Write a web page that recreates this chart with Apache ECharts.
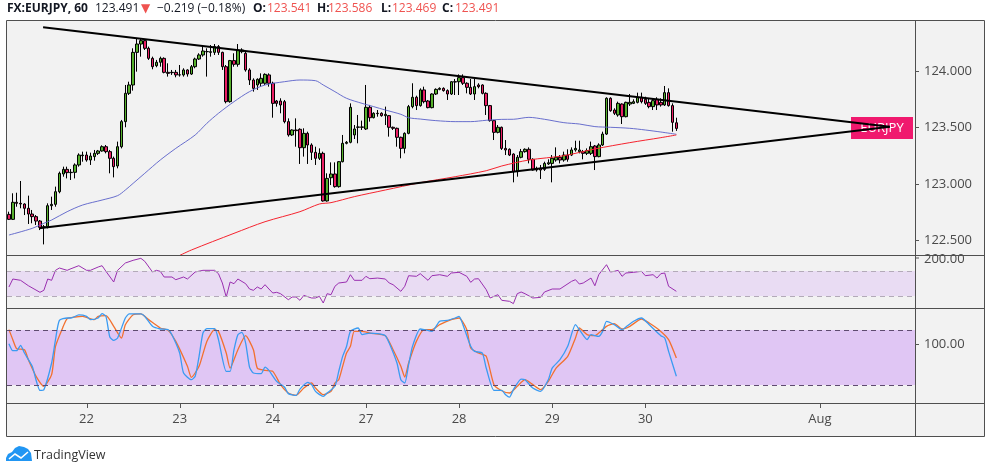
<!DOCTYPE html>
<html><head><meta charset="utf-8">
<script src="https://cdn.jsdelivr.net/npm/echarts@6/dist/echarts.min.js"></script>
<style>html,body{margin:0;padding:0;background:#fff}#c{width:991px;height:473px}</style>
</head><body><div id="c"></div>
<script>
// hourly candles: [open, high, low, close]
const candles = [
[122.729,122.753,122.679,122.685],[122.685,122.916,122.679,122.836],[122.836,122.921,122.797,122.827],[122.827,123.025,122.783,122.821],
[122.821,122.827,122.723,122.783],[122.783,122.895,122.644,122.732],[122.732,122.768,122.650,122.709],[122.709,122.723,122.635,122.670],
[122.670,122.679,122.590,122.614],[122.614,122.635,122.463,122.620],[122.620,122.827,122.605,122.806],[122.806,122.886,122.768,122.818],
[122.818,122.975,122.797,122.930],[122.930,123.108,122.916,123.093],[123.087,123.152,123.063,123.128],[123.128,123.152,123.048,123.099],
[123.099,123.131,123.034,123.102],[123.102,123.181,123.048,123.167],[123.167,123.270,123.152,123.255],[123.249,123.285,123.196,123.255],
[123.255,123.285,123.196,123.211],[123.211,123.276,123.167,123.246],[123.241,123.300,123.205,123.270],[123.270,123.300,123.255,123.291],
[123.291,123.341,123.285,123.329],[123.329,123.344,123.270,123.285],[123.285,123.300,123.093,123.226],[123.226,123.241,123.057,123.152],
[123.158,123.374,123.137,123.329],[123.329,123.566,123.314,123.551],[123.551,123.876,123.501,123.802],[123.802,123.905,123.787,123.876],
[123.876,124.201,123.826,124.165],[124.165,124.290,123.994,124.239],[124.239,124.290,124.127,124.269],[124.269,124.275,124.186,124.201],
[124.201,124.216,124.098,124.112],[124.112,124.127,124.015,124.038],[124.047,124.098,124.033,124.077],[124.077,124.127,124.038,124.112],
[124.112,124.121,123.979,123.988],[123.988,124.068,123.950,123.979],[123.985,124.009,123.965,123.988],[123.988,124.009,123.944,123.965],
[123.965,124.053,123.950,123.966],[123.965,124.024,123.950,124.009],[124.009,124.015,123.950,123.973],[123.973,124.053,123.965,124.038],
[124.038,124.118,124.024,124.106],[124.106,124.157,124.098,124.142],[124.142,124.230,124.127,124.177],[124.171,124.201,123.950,124.172],
[124.165,124.230,124.127,124.171],[124.165,124.239,124.142,124.216],[124.216,124.230,124.142,124.165],[124.165,124.171,124.009,124.038],
[124.038,124.053,123.713,123.728],[123.728,124.098,123.719,124.092],[124.092,124.157,124.038,124.059],[124.059,124.239,124.038,124.186],
[124.171,124.201,124.157,124.186],[124.157,124.171,123.994,124.009],[124.009,124.024,123.876,123.920],[123.920,123.935,123.817,123.846],
[123.876,123.935,123.832,123.926],[123.891,123.979,123.861,123.935],[123.891,123.979,123.876,123.970],[123.965,123.979,123.861,123.891],
[123.891,123.905,123.586,123.713],[123.734,123.743,123.684,123.713],[123.734,123.758,123.625,123.699],[123.728,123.743,123.536,123.551],
[123.551,123.580,123.418,123.433],[123.433,123.483,123.424,123.477],[123.477,123.580,123.329,123.471],[123.483,123.492,123.176,123.320],
[123.320,123.492,123.241,123.447],[123.447,123.462,123.176,123.344],[123.344,123.359,123.211,123.279],[123.279,123.329,123.167,123.226],
[123.226,123.314,123.211,123.270],[123.270,123.285,122.842,122.848],[122.848,123.093,122.842,123.048],[123.054,123.190,122.989,123.087],
[123.087,123.190,122.966,122.975],[122.975,123.202,122.966,123.196],[123.196,123.433,123.190,123.359],[123.359,123.379,123.350,123.368],
[123.368,123.713,123.359,123.678],[123.433,123.521,123.397,123.486],[123.501,123.610,123.359,123.504],[123.501,123.560,123.477,123.504],
[123.486,123.876,123.477,123.678],[123.678,123.699,123.551,123.586],[123.586,123.634,123.580,123.625],[123.625,123.654,123.595,123.622],
[123.625,123.634,123.595,123.604],[123.604,123.684,123.521,123.616],[123.604,123.610,123.418,123.501],[123.501,123.507,123.477,123.492],
[123.492,123.498,123.329,123.412],[123.412,123.418,123.226,123.314],[123.314,123.456,123.270,123.447],[123.447,123.699,123.439,123.684],
[123.684,123.891,123.669,123.767],[123.767,123.781,123.654,123.693],[123.693,123.846,123.684,123.832],[123.832,123.861,123.713,123.728],
[123.734,123.743,123.669,123.675],[123.675,123.802,123.669,123.796],[123.796,123.846,123.787,123.837],[123.837,123.855,123.829,123.846],
[123.846,123.855,123.817,123.826],[123.826,123.837,123.743,123.796],[123.796,123.911,123.787,123.905],[123.905,123.929,123.787,123.902],
[123.905,123.970,123.787,123.941],[123.941,123.970,123.876,123.891],[123.891,123.900,123.802,123.855],[123.855,123.929,123.787,123.796],
[123.796,123.929,123.743,123.861],[123.876,123.891,123.846,123.861],[123.876,123.882,123.793,123.802],[123.802,123.811,123.610,123.693],
[123.693,123.699,123.551,123.560],[123.560,123.566,123.388,123.456],[123.456,123.521,123.447,123.501],[123.501,123.507,123.300,123.314],
[123.314,123.388,123.255,123.300],[123.306,123.314,123.246,123.255],[123.264,123.270,123.013,123.108],[123.108,123.255,123.063,123.235],
[123.235,123.309,123.226,123.285],[123.285,123.314,123.276,123.306],[123.306,123.323,123.181,123.217],[123.217,123.226,123.116,123.122],
[123.122,123.152,123.108,123.137],[123.137,123.167,123.043,123.122],[123.128,123.196,123.114,123.181],[123.176,123.217,123.167,123.187],
[123.181,123.255,123.013,123.226],[123.211,123.323,123.196,123.235],[123.235,123.255,123.181,123.211],[123.211,123.285,123.196,123.255],
[123.255,123.306,123.196,123.217],[123.255,123.323,123.246,123.300],[123.300,123.382,123.285,123.314],[123.285,123.382,123.270,123.300],
[123.285,123.300,123.217,123.270],[123.270,123.314,123.255,123.294],[123.270,123.374,123.255,123.329],[123.335,123.344,123.122,123.241],
[123.241,123.359,123.235,123.344],[123.344,123.462,123.335,123.441],[123.441,123.767,123.433,123.758],[123.758,123.767,123.639,123.648],
[123.654,123.669,123.610,123.625],[123.610,123.728,123.595,123.713],[123.707,123.713,123.530,123.595],[123.595,123.728,123.589,123.722],
[123.707,123.796,123.690,123.722],[123.713,123.749,123.707,123.728],[123.722,123.808,123.713,123.767],[123.767,123.808,123.713,123.728],
[123.749,123.772,123.699,123.713],[123.722,123.758,123.669,123.684],[123.684,123.758,123.654,123.737],[123.749,123.767,123.654,123.699],
[123.722,123.758,123.684,123.699],[123.699,123.867,123.690,123.808],[123.808,123.846,123.684,123.693],[123.693,123.713,123.462,123.545],
[123.541,123.586,123.469,123.491]
];
// moving averages read at sample bars: [bar index, value]
const maBlue = [[0,122.546],[6,122.605],[9,122.650],[11,122.679],[15,122.753],[19,122.812],[24,122.856],[28,122.895],[30,122.945],[32,123.004],[35,123.093],[39,123.211],[43,123.314],[48,123.433],[51,123.536],[54,123.625],[58,123.728],[62,123.817],[66,123.876],[71,123.905],[75,123.920],[79,123.914],[81,123.876],[84,123.817],[87,123.758],[91,123.713],[94,123.684],[97,123.654],[101,123.616],[103,123.586],[106,123.574],[110,123.560],[115,123.551],[119,123.551],[123,123.563],[127,123.571],[130,123.572],[134,123.589],[138,123.572],[143,123.542],[147,123.530],[151,123.507],[155,123.501],[160,123.492],[164,123.477],[168,123.459],[172,123.439]];
const maRed = [[44,122.365],[47,122.413],[58,122.561],[66,122.664],[75,122.753],[80,122.821],[83,122.833],[89,122.886],[97,122.945],[106,123.010],[115,123.063],[123,123.116],[127,123.158],[134,123.211],[143,123.249],[151,123.309],[160,123.365],[168,123.409],[172,123.433]];
const trendUpper = [[8.8,124.387],[227,123.505]];
const trendLower = [[7.8,122.606],[227,123.505]];
const rsi = [[0,44.4],[1,57.2],[3,55.1],[5,46.5],[8,35.9],[9,39.1],[10,57.2],[11,55.1],[12,71.1],[13,74.8],[15,71.1],[16,73.7],[18,78.5],[20,71.1],[21,71.1],[23,76.4],[24,78.5],[25,69.5],[27,52.4],[28,71.1],[30,82.8],[32,87.1],[34,90.3],[35,85.5],[37,68.4],[38,71.1],[39,69.5],[40,60.4],[42,60.4],[43,56.1],[45,60.4],[46,57.2],[48,68.4],[50,71.1],[53,71.1],[54,65.7],[55,50.8],[56,28.4],[57,52.4],[58,49.7],[59,57.2],[61,49.7],[62,41.2],[63,39.1],[64,44.4],[65,41.2],[66,48.1],[67,41.2],[68,34.8],[69,35.9],[70,33.7],[72,24.1],[73,28.4],[74,28.4],[75,23.1],[76,31.0],[78,26.8],[79,26.8],[80,29.5],[81,18.8],[82,33.7],[83,32.1],[84,45.5],[85,50.8],[87,52.4],[88,64.1],[89,55.1],[91,55.1],[92,61.5],[93,57.7],[95,58.7],[97,57.2],[98,50.8],[99,48.1],[101,37.5],[102,45.5],[103,62.5],[105,61.5],[106,65.7],[108,55.1],[109,62.5],[111,64.1],[113,61.5],[114,66.8],[116,67.9],[118,61.5],[119,51.9],[120,57.2],[121,57.7],[123,40.1],[124,26.8],[126,32.1],[127,23.1],[129,21.5],[130,17.8],[131,33.7],[132,36.4],[133,33.7],[135,26.8],[137,27.8],[138,36.4],[140,41.2],[142,41.2],[145,53.5],[146,56.1],[147,49.2],[148,50.8],[150,58.7],[151,46.4],[152,64.1],[154,80.1],[155,68.4],[156,69.5],[157,71.1],[158,61.5],[159,66.8],[161,67.9],[163,69.5],[164,62.5],[166,64.1],[167,58.7],[168,65.7],[169,66.8],[170,45.5],[172,37.5]];
const stochK = [[0,65.1],[1,57.5],[2,57.5],[3,63.3],[4,54.9],[6,40.4],[8,14.2],[9,14.9],[11,44.0],[12,69.5],[13,90.5],[15,93.1],[16,93.1],[18,96.4],[20,94.9],[21,91.3],[23,93.1],[24,97.8],[25,94.9],[26,72.4],[27,68.7],[28,71.3],[30,93.1],[31,97.5],[34,97.5],[35,94.9],[37,84.0],[39,81.1],[41,80.4],[42,74.9],[44,54.9],[45,33.1],[47,25.8],[48,29.5],[49,51.3],[50,76.7],[51,81.5],[53,81.5],[54,69.5],[56,34.9],[57,34.9],[58,58.5],[59,74.9],[60,77.5],[61,65.8],[62,39.6],[63,33.1],[65,32.4],[66,39.6],[67,36.0],[69,24.0],[71,17.8],[72,10.6],[74,8.7],[75,15.6],[77,22.9],[78,20.4],[79,13.1],[81,7.6],[82,11.3],[84,18.6],[85,35.0],[86,51.3],[87,62.0],[88,78.5],[90,82.2],[91,74.9],[93,76.7],[95,76.0],[97,73.8],[98,65.8],[100,44.0],[101,25.8],[102,22.2],[103,42.2],[104,62.2],[106,81.1],[107,80.4],[109,78.5],[111,89.5],[113,90.5],[115,93.1],[116,94.9],[117,85.8],[119,62.2],[120,56.7],[122,54.9],[123,38.5],[125,14.2],[127,14.2],[128,9.5],[129,6.9],[130,14.9],[132,26.5],[133,25.8],[135,16.7],[137,13.1],[139,25.8],[140,38.5],[142,47.6],[144,62.2],[146,85.8],[147,80.4],[149,69.5],[150,74.9],[152,73.1],[153,78.5],[154,89.5],[156,85.8],[158,80.4],[159,83.3],[161,89.5],[163,93.1],[165,85.8],[168,73.8],[169,71.3],[170,56.7],[172,29.5]];
const stochD = [[0,80.4],[1,69.5],[2,59.6],[4,58.5],[5,47.6],[7,29.5],[9,18.6],[11,31.3],[12,62.2],[14,84.0],[15,92.4],[17,94.2],[19,94.9],[22,91.3],[23,94.9],[25,95.6],[27,84.0],[29,71.3],[30,85.8],[32,96.7],[34,97.5],[36,91.3],[39,82.2],[41,79.6],[43,67.6],[46,40.4],[47,28.4],[49,40.4],[51,67.6],[53,80.4],[54,78.5],[56,54.9],[57,38.5],[59,58.5],[61,73.8],[63,58.5],[64,38.5],[66,36.0],[68,34.9],[70,20.4],[72,11.3],[74,8.7],[76,16.7],[78,22.2],[79,16.7],[81,9.5],[83,13.1],[84,22.2],[85,25.8],[86,40.4],[87,54.9],[88,62.2],[89,78.5],[91,78.5],[93,76.7],[97,73.8],[99,58.5],[101,40.4],[102,28.7],[103,44.0],[105,67.6],[107,80.4],[109,80.4],[111,85.8],[114,91.3],[116,93.1],[118,80.4],[119,60.4],[121,54.9],[123,51.3],[125,20.4],[127,13.8],[129,11.3],[131,18.6],[133,25.8],[135,20.4],[137,14.9],[139,24.0],[141,38.5],[144,51.3],[146,71.3],[147,82.2],[149,74.9],[151,73.8],[152,76.7],[154,84.0],[156,86.9],[158,81.1],[160,84.0],[163,92.0],[165,87.6],[168,78.5],[170,69.5],[172,49.5]];
const dayLabels = ['22','23','24','27','28','29','30','Aug'];
const dayIndex = [20,44,68,92,116,140,164,209];
const priceTicks = [122.5,123,123.5,124];
const rsiBands = [30,70];
const stochBands = [20,80];
const slotCount = 234;

const slots = Array.from({length: slotCount}, (_, i) => String(i));
const labelMap = {};
dayIndex.forEach((ix, k) => { labelMap[ix] = dayLabels[k]; });
const isLabel = (idx) => labelMap[idx] !== undefined;

const FONT = 'Open Sans';
const RED = '#ef5350';
const chart = echarts.init(document.getElementById('c'), null, {renderer: 'canvas'});

const G = [
  {left: 7, top: 21, width: 908, height: 234},
  {left: 7, top: 255, width: 908, height: 53},
  {left: 7, top: 308, width: 908, height: 95}
];
const hiddenVal = (g) => ({type: 'value', gridIndex: g, min: -0.5, max: slotCount - 0.5, show: false});

const hdr = [];
const addT = (x, text, opt) => hdr.push({type: 'text', x: x, y: 9, z: 50,
  style: Object.assign({text: text, fill: '#131722', font: '12px "' + FONT + '"', textVerticalAlign: 'middle'}, opt || {})});
addT(7, 'FX:EURJPY, 60', {font: 'bold 12px "' + FONT + '"'});
addT(95, '123.491');
addT(141, '▼', {fill: RED, font: '12px "DejaVu Sans"'});
addT(157, '−0.219 (−0.18%)');
addT(253, 'O:', {font: 'bold 12px "' + FONT + '"'});
addT(267, '123.541', {fill: RED});
addT(317, 'H:', {font: 'bold 12px "' + FONT + '"'});
addT(328, '123.586', {fill: RED});
addT(381, 'L:', {font: 'bold 12px "' + FONT + '"'});
addT(392, '123.469', {fill: RED});
addT(442, 'C:', {font: 'bold 12px "' + FONT + '"'});
addT(455, '123.491', {fill: RED});

const frameColor = '#4f4f4f';
const graphics = [
  {type: 'rect', z: 0, shape: {x: 7, y: 21, width: 978, height: 416}, style: {fill: '#f2f2f2'}},
  {type: 'rect', z: 1, shape: {x: 851, y: 117, width: 62, height: 22}, style: {fill: '#f0196e'}},
  {type: 'text', z: 1, x: 882, y: 128.5, style: {text: 'EURJPY', fill: '#fff', font: '13px "' + FONT + '"', textAlign: 'center', textVerticalAlign: 'middle'}},
  {type: 'rect', z: 60, shape: {x: 6.5, y: 20.5, width: 978, height: 416}, style: {fill: 'none', stroke: frameColor, lineWidth: 1}},
  {type: 'line', z: 60, shape: {x1: 915.5, y1: 21, x2: 915.5, y2: 437}, style: {stroke: frameColor, lineWidth: 1}},
  {type: 'line', z: 60, shape: {x1: 7, y1: 255.5, x2: 985, y2: 255.5}, style: {stroke: frameColor, lineWidth: 1}},
  {type: 'line', z: 60, shape: {x1: 7, y1: 308.5, x2: 985, y2: 308.5}, style: {stroke: frameColor, lineWidth: 1}},
  {type: 'line', z: 60, shape: {x1: 7, y1: 403.5, x2: 985, y2: 403.5}, style: {stroke: frameColor, lineWidth: 1}},
  {type: 'line', z: 60, shape: {x1: 915, y1: 258, x2: 919, y2: 258}, style: {stroke: '#555', lineWidth: 1}},
  {type: 'text', z: 55, x: 924, y: 259, style: {text: '200.00', fill: '#4a4a4a', font: '13px "' + FONT + '"', textVerticalAlign: 'middle'}},
  {type: 'line', z: 60, shape: {x1: 915, y1: 344.5, x2: 919, y2: 344.5}, style: {stroke: '#555', lineWidth: 1}},
  {type: 'text', z: 55, x: 924, y: 344.5, style: {text: '100.00', fill: '#4a4a4a', font: '13px "' + FONT + '"', textVerticalAlign: 'middle'}},
  {type: 'polygon', z: 50, shape: {points: [[6,461],[6,458],[8,454],[12,452],[15,448],[19,446],[24,447],[28,449],[31,453],[32,461]]}, style: {fill: '#2196f3'}},
  {type: 'polyline', z: 51, shape: {points: [[9, 459], [15, 454], [21, 458], [28, 452]]}, style: {stroke: '#fff', lineWidth: 1.6, fill: 'none'}},
  {type: 'text', z: 50, x: 34, y: 455, style: {text: 'TradingView', fill: '#333', font: '12.5px "' + FONT + '"', textVerticalAlign: 'middle'}}
].concat(hdr);

const option = {
  animation: false,
  backgroundColor: '#ffffff',
  textStyle: {fontFamily: FONT},
  grid: G,
  xAxis: [
    {type: 'category', gridIndex: 0, data: slots, boundaryGap: true, axisLine: {show: false}, axisTick: {show: false}, axisLabel: {show: false}, splitLine: {show: false}},
    hiddenVal(0), hiddenVal(1), hiddenVal(2),
    {type: 'category', gridIndex: 2, data: slots, boundaryGap: true, position: 'bottom',
     axisLine: {show: false}, axisTick: {show: false},
     axisLabel: {interval: (i) => isLabel(i), formatter: (v) => labelMap[Number(v)] || '', color: '#4a4a4a', fontSize: 13, margin: 10},
     splitLine: {show: false}}
  ],
  yAxis: [
    {type: 'value', gridIndex: 0, position: 'right', min: 122.369, max: 124.443, splitLine: {show: false}, axisLine: {show: false},
     axisTick: {show: false},
     axisLabel: {customValues: priceTicks, formatter: (v) => Number(v).toFixed(3), color: '#4a4a4a', fontSize: 13, margin: 9}},
    {type: 'value', gridIndex: 1, min: 10.8, max: 95.6, show: false},
    {type: 'value', gridIndex: 2, min: 0.4, max: 104, show: false}
  ],
  graphic: graphics,
  series: [
    {type: 'candlestick', xAxisIndex: 0, yAxisIndex: 0, barWidth: 3,
     data: candles.map(c => [c[0], c[3], c[2], c[1]]),
     itemStyle: {color: '#55b02c', color0: '#ea1e63', borderColor: '#000', borderColor0: '#000', borderWidth: 1}},
    {type: 'line', xAxisIndex: 1, yAxisIndex: 0, data: maBlue, showSymbol: false, smooth: 0.3, clip: true,
     lineStyle: {color: '#5a61c9', width: 1, opacity: 0.9}},
    {type: 'line', xAxisIndex: 1, yAxisIndex: 0, data: maRed, showSymbol: false, smooth: 0.3, clip: true,
     lineStyle: {color: '#f5232e', width: 1}},
    {type: 'line', xAxisIndex: 1, yAxisIndex: 0, data: trendUpper, showSymbol: false, z: 5, lineStyle: {color: '#000', width: 2}},
    {type: 'line', xAxisIndex: 1, yAxisIndex: 0, data: trendLower, showSymbol: false, z: 5, lineStyle: {color: '#000', width: 2}},
    {type: 'line', xAxisIndex: 2, yAxisIndex: 1, data: rsi, showSymbol: false, lineStyle: {color: '#9a2fb0', width: 1},
     markArea: {silent: true, itemStyle: {color: '#e9dcf3'}, data: [[{yAxis: rsiBands[0]}, {yAxis: rsiBands[1]}]]},
     markLine: {silent: true, symbol: 'none', label: {show: false}, lineStyle: {color: '#b3aab8', type: [5, 4], width: 1},
       data: rsiBands.map(v => ({yAxis: v}))}},
    {type: 'line', xAxisIndex: 3, yAxisIndex: 2, data: stochD, showSymbol: false, smooth: 0.2, lineStyle: {color: '#f2702e', width: 1.3},
     markArea: {silent: true, itemStyle: {color: '#e0c6f4'}, data: [[{yAxis: stochBands[0]}, {yAxis: stochBands[1]}]]},
     markLine: {silent: true, symbol: 'none', label: {show: false}, lineStyle: {color: '#5f4b70', type: [5, 4], width: 1},
       data: stochBands.map(v => ({yAxis: v}))}},
    {type: 'line', xAxisIndex: 3, yAxisIndex: 2, data: stochK, showSymbol: false, smooth: 0.2, lineStyle: {color: '#3a9bf2', width: 1.3}}
  ]
};
chart.setOption(option);

// tick marks placed through the library's own scales
const tickEls = [];
priceTicks.forEach(v => {
  const y = Math.round(chart.convertToPixel({yAxisIndex: 0}, v)) + 0.5;
  tickEls.push({type: 'line', z: 60, shape: {x1: 915, y1: y, x2: 919, y2: y}, style: {stroke: '#555', lineWidth: 1}});
});
dayIndex.forEach(ix => {
  const x = Math.round(chart.convertToPixel({xAxisIndex: 4}, ix)) + 0.5;
  tickEls.push({type: 'line', z: 60, shape: {x1: x, y1: 404, x2: x, y2: 408}, style: {stroke: '#555', lineWidth: 1}});
});
chart.setOption({graphic: graphics.concat(tickEls)});
</script>
</body></html>
